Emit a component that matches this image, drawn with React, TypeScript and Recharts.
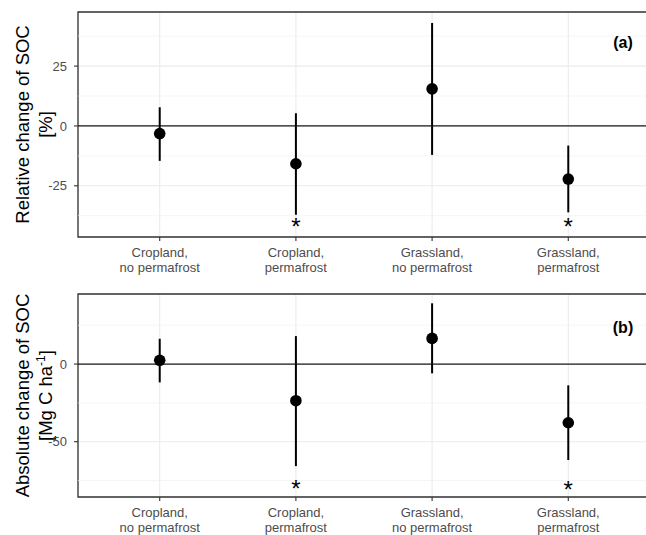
import { ComposedChart, Scatter, XAxis, YAxis, CartesianGrid, ReferenceLine, ReferenceArea, ErrorBar, Label } from 'recharts'

const categories = ['Cropland, no permafrost', 'Cropland, permafrost', 'Grassland, no permafrost', 'Grassland, permafrost']

// panel (a): relative change of SOC [%]
const relMean = [-3.2, -15.8, 15.5, -22.2]
const relLow = [-14.6, -37.1, -12.1, -36.1]
const relHigh = [7.8, 5.3, 43.0, -8.2]
const relStar = [null, -40.8, null, -40.8]
const relTicks = [-25, 0, 25]
const relMinor = [-37.5, -12.5, 12.5, 37.5]

// panel (b): absolute change of SOC [Mg C ha-1]
const absMean = [2.4, -23.6, 16.5, -37.8]
const absLow = [-11.8, -65.7, -6.0, -61.8]
const absHigh = [16.3, 18.0, 39.1, -13.7]
const absStar = [null, -78.5, null, -79.0]
const absTicks = [-50, 0]
const absMinor = [-75, -25, 25]

const FONT = '"Liberation Sans", Arial, Helvetica, sans-serif'

const CatTick = ({ x, y, payload }: any) => {
  const label = categories[payload.value - 1] || ''
  const [first, second] = label.split(', ')
  return (
    <text x={x} y={y} textAnchor="middle" fill="#4d4d4d" fontSize={13} fontFamily={FONT}>
      <tspan x={x} dy={13.5}>{first},</tspan>
      <tspan x={x} dy={15}>{second}</tspan>
    </text>
  )
}

const Dot = ({ cx, cy }: any) => <circle cx={cx} cy={cy} r={5.8} fill="#000" />

const Star = ({ cx, cy }: any) => (
  <text x={cx} y={cy + 11} textAnchor="middle" fontSize={24} fontFamily={FONT} fill="#000">*</text>
)

interface PanelProps {
  mean: number[]
  low: number[]
  high: number[]
  star: (number | null)[]
  ticks: number[]
  minor: number[]
  domain: [number, number]
  height: number
  top: number
  xHeight: number
  title: React.ReactNode
}

const Panel = ({ mean, low, high, star, ticks, minor, domain, height, top, xHeight, title }: PanelProps) => {
  const points = categories.map((c, i) => ({ x: i + 1, y: mean[i], err: [mean[i] - low[i], high[i] - mean[i]] }))
  const stars = star
    .map((v, i) => ({ x: i + 1, y: v }))
    .filter((d) => d.y !== null)

  const renderTitle = (props: any) => {
    const vb = props.viewBox || {}
    const cy = vb.y + vb.height / 2
    return (
      <g>
        <text
          transform={`translate(40, ${cy}) rotate(-90)`}
          textAnchor="middle"
          fontSize={18.5}
          fontFamily={FONT}
          fill="#000"
        >
          {title}
        </text>
      </g>
    )
  }

  return (
    <ComposedChart width={650} height={height} margin={{ top, right: 0, bottom: 0, left: 0 }}>
      <CartesianGrid stroke="#ebebeb" strokeWidth={1.1} />
      {minor.map((v) => (
        <ReferenceLine key={v} y={v} stroke="#f0f0f0" strokeWidth={0.7} />
      ))}
      <XAxis
        type="number"
        dataKey="x"
        domain={[0.4, 4.6]}
        ticks={[1, 2, 3, 4]}
        allowDataOverflow
        axisLine={false}
        tickLine={{ stroke: '#333', strokeWidth: 1.1 }}
        tickSize={4}
        tick={<CatTick />}
        height={xHeight}
        interval={0}
      />
      <YAxis
        type="number"
        dataKey="y"
        domain={domain}
        ticks={ticks}
        allowDataOverflow
        axisLine={false}
        tickLine={{ stroke: '#333', strokeWidth: 1.1 }}
        tickSize={4}
        tickMargin={7}
        width={78}
        tick={{ fill: '#4d4d4d', fontSize: 13, fontFamily: FONT }}
      >
        <Label content={renderTitle} />
      </YAxis>
      <ReferenceLine y={0} stroke="#1a1a1a" strokeWidth={1.2} />
      <Scatter data={points} shape={<Dot />} isAnimationActive={false}>
        <ErrorBar dataKey="err" direction="y" width={0} stroke="#000" strokeWidth={2} />
      </Scatter>
      <Scatter data={stars} shape={<Star />} isAnimationActive={false} />
      <ReferenceArea x1={0.4} x2={4.6} y1={domain[0]} y2={domain[1]} fill="none" stroke="#333" strokeWidth={1.3} />
    </ComposedChart>
  )
}

const tagStyle: React.CSSProperties = {
  position: 'absolute',
  left: 603,
  width: 40,
  height: 18,
  lineHeight: '18px',
  textAlign: 'center',
  fontFamily: FONT,
  fontWeight: 'bold',
  fontSize: 16,
  color: '#000',
}

export default function App() {
  return (
    <div style={{ position: 'absolute', left: 0, top: 0, width: 646, height: 535, overflow: 'hidden', background: '#fff' }}>
      <div style={{ position: 'absolute', left: 0, top: 0 }}>
        <Panel
          mean={relMean}
          low={relLow}
          high={relHigh}
          star={relStar}
          ticks={relTicks}
          minor={relMinor}
          domain={[-46.4, 47.6]}
          height={280}
          top={12}
          xHeight={43}
          title={
            <>
              <tspan x={0} dy={-11.5}>Relative change of SOC</tspan>
              <tspan x={0} dy={23}>[%]</tspan>
            </>
          }
        />
      </div>
      <div style={{ position: 'absolute', left: 0, top: 280 }}>
        <Panel
          mean={absMean}
          low={absLow}
          high={absHigh}
          star={absStar}
          ticks={absTicks}
          minor={absMinor}
          domain={[-85.6, 45.1]}
          height={255}
          top={14}
          xHeight={38}
          title={
            <>
              <tspan x={0} dy={-11.5}>Absolute change of SOC</tspan>
              <tspan x={0} dy={23}>[Mg C ha</tspan>
              <tspan baselineShift="super" fontSize={12}>-1</tspan>
              <tspan>]</tspan>
            </>
          }
        />
      </div>
      <div style={{ ...tagStyle, top: 34 }}>(a)</div>
      <div style={{ ...tagStyle, top: 319 }}>(b)</div>
    </div>
  )
}
